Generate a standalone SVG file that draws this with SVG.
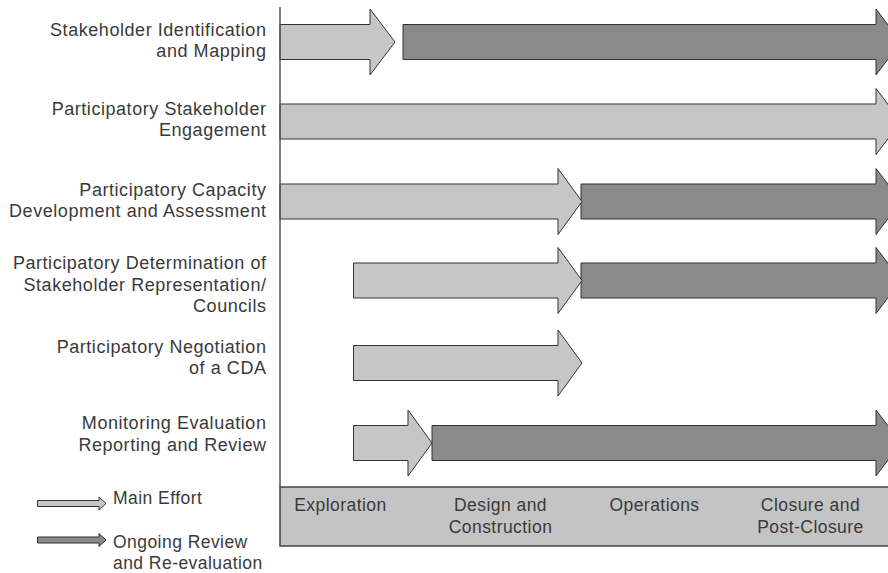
<svg xmlns="http://www.w3.org/2000/svg" width="888" height="573" viewBox="0 0 888 573">
<style>
  text { font-family: "Liberation Sans", Arial, Helvetica, sans-serif; fill: #3a3a3a; }
  .lbl { font-size: 18px; letter-spacing: 0.55px; text-anchor: end; }
  .ph { font-size: 17.5px; letter-spacing: 0.45px; text-anchor: middle; }
  .leg { font-size: 17.5px; letter-spacing: 0.45px; }
  .main { fill: #c6c6c6; stroke: #333; stroke-width: 1; stroke-linejoin: miter; }
  .ongo { fill: #8a8a8a; stroke: #333; stroke-width: 1; stroke-linejoin: miter; }
  .axis { stroke: #555; stroke-width: 1.5; fill: none; }
  .bar { fill: #c4c4c4; stroke: #444; stroke-width: 1.5; }
</style>
<rect width="888" height="573" fill="#fff"/>

<g id="connectors">
  <!-- Row 1 -->
  <path class="ongo" d="M403,24.5 H876 V9 L901,42 L876,75 V59.5 H403 Z"/>
  <path class="main" d="M280,24.5 H370 V9 L395,42 L370,75 V59.5 H280 Z"/>
  <!-- Row 2 -->
  <path class="main" d="M280,104 H876 V88.5 L901,121.5 L876,154.5 V139 H280 Z"/>
  <!-- Row 3 -->
  <path class="ongo" d="M581,184 H876 V168.5 L901,201.5 L876,234.5 V219 H581 Z"/>
  <path class="main" d="M280,184 H558 V168.5 L582,201.5 L558,234.5 V219 H280 Z"/>
  <!-- Row 4 -->
  <path class="ongo" d="M581,263 H876 V247.5 L901,280.5 L876,313.5 V298 H581 Z"/>
  <path class="main" d="M353.5,263 H558 V247.5 L582,280.5 L558,313.5 V298 H353.5 Z"/>
  <!-- Row 5 -->
  <path class="main" d="M353.5,345.5 H558 V330 L582,363 L558,396 V380.5 H353.5 Z"/>
  <!-- Row 6 -->
  <path class="ongo" d="M432,425.5 H876 V410 L901,443 L876,476 V460.5 H432 Z"/>
  <path class="main" d="M353.5,425.5 H408 V410 L432,443 L408,476 V460.5 H353.5 Z"/>
</g>

<line class="axis" x1="280" y1="7" x2="280" y2="487"/>

<g id="row1">
  <text class="lbl" x="266.5" y="36">Stakeholder Identification</text>
  <text class="lbl" x="266.5" y="57">and Mapping</text>
</g>
<g id="row2">
  <text class="lbl" x="266.5" y="115">Participatory Stakeholder</text>
  <text class="lbl" x="266.5" y="136">Engagement</text>
</g>
<g id="row3">
  <text class="lbl" x="266.5" y="196">Participatory Capacity</text>
  <text class="lbl" x="266.5" y="217">Development and Assessment</text>
</g>
<g id="row4">
  <text class="lbl" x="266.5" y="269">Participatory Determination of</text>
  <text class="lbl" x="266.5" y="290.5">Stakeholder Representation/</text>
  <text class="lbl" x="266.5" y="312">Councils</text>
</g>
<g id="row5">
  <text class="lbl" x="266.5" y="352.5">Participatory Negotiation</text>
  <text class="lbl" x="266.5" y="374">of a CDA</text>
</g>
<g id="row6">
  <text class="lbl" x="266.5" y="429">Monitoring Evaluation</text>
  <text class="lbl" x="266.5" y="450.5">Reporting and Review</text>
</g>

<g id="phases">
  <rect class="bar" x="280" y="487" width="612" height="59"/>
  <text class="ph" x="340.5" y="511">Exploration</text>
  <text class="ph" x="500.5" y="511">Design and</text>
  <text class="ph" x="500.5" y="532.5">Construction</text>
  <text class="ph" x="654.5" y="511">Operations</text>
  <text class="ph" x="810.5" y="511">Closure and</text>
  <text class="ph" x="810.5" y="532.5">Post-Closure</text>
</g>

<g id="legend">
  <path class="main" d="M37.5,500.5 H99 V497 L106,503.5 L99,510 V506.5 H37.5 Z"/>
  <text class="leg" x="113" y="503.5">Main Effort</text>
  <path class="ongo" d="M37.5,537 H99 V533.5 L106,540 L99,546.5 V543 H37.5 Z"/>
  <text class="leg" x="113" y="547.5">Ongoing Review</text>
  <text class="leg" x="113" y="568.5">and Re-evaluation</text>
</g>
</svg>
